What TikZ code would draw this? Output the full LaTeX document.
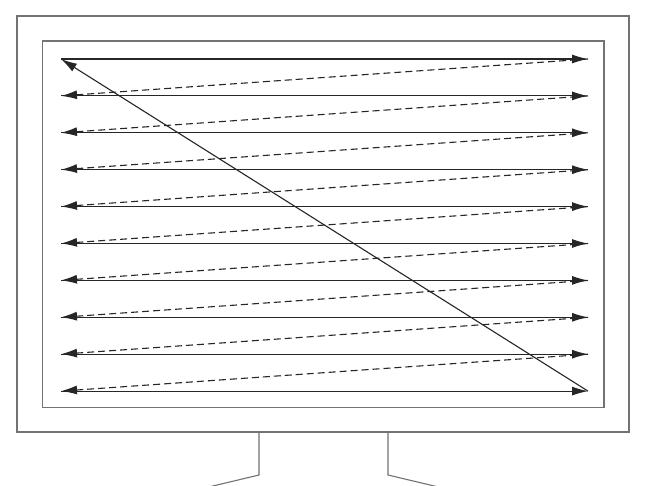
\documentclass[tikz,border=0pt]{standalone}
\usetikzlibrary{arrows.meta}
\begin{document}
\begin{tikzpicture}[x=1pt,y=-1pt,
  frame/.style={draw=black!55,line width=1.3pt},
  scanline/.style={draw=black!85,line width=1.1pt,-{Latex[length=16pt,width=9pt]}},
  retrace/.style={scanline,dash pattern=on 7pt off 4pt}]
\useasboundingbox (0,0) rectangle (651,485);
\clip (0,0) rectangle (651,485);
\fill[white] (0,0) rectangle (651,485);
\draw[frame] (17,16) rectangle (629,432);
\draw[frame] (42.5,41) rectangle (604,407.5);
\coordinate (s1) at (259,432);
\coordinate (s2) at (259,475);
\coordinate (s3) at (175,495);
\coordinate (t1) at (388,432);
\coordinate (t2) at (388,475);
\coordinate (t3) at (472,495);
\draw[frame,line width=1.1pt] (s1) -- (s2) -- (s3);
\draw[frame,line width=1.1pt] (t1) -- (t2) -- (t3);
\foreach \i in {1,...,10}{
  \pgfmathsetmacro{\yy}{59+(\i-1)*36.9}
  \coordinate (L\i) at (61,\yy);
  \coordinate (R\i) at (588,\yy);
}
\foreach \i in {1,...,10}{
  \draw[scanline] (L\i) -- (R\i);
}
\foreach \i [evaluate=\i as \j using int(\i+1)] in {1,...,9}{
  \draw[retrace] (R\i) -- (L\j);
}
\draw[scanline] (R10) -- (L1);
\end{tikzpicture}
\end{document}
